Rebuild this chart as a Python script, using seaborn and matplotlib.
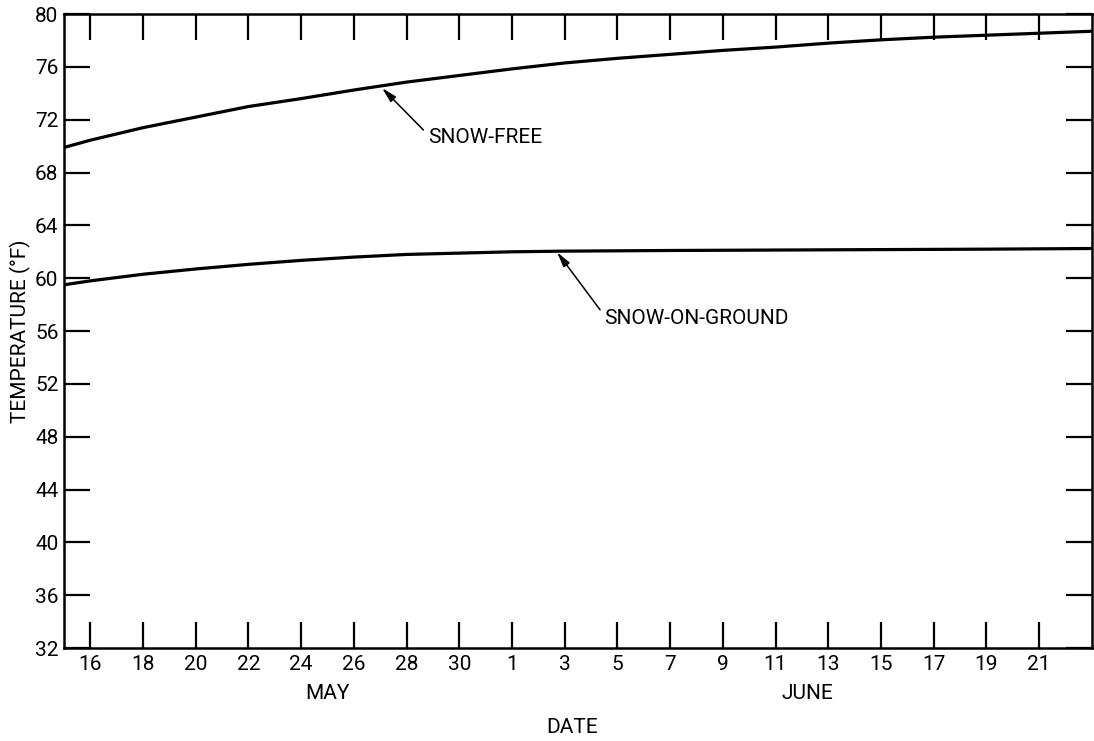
import numpy as np
import pandas as pd
import matplotlib
matplotlib.use('Agg')
import matplotlib.pyplot as plt
import seaborn as sns

# data (day index: May 1 = 1, June 1 = 32)
days_free = [15, 16, 18, 20, 22, 24, 26, 28, 30, 32, 34, 36, 38, 40, 42, 44, 46, 48, 50, 52, 54]
temp_free = [69.9, 70.45, 71.4, 72.2, 73.0, 73.6, 74.25, 74.85, 75.35, 75.85, 76.3, 76.65,
             76.95, 77.25, 77.5, 77.8, 78.05, 78.25, 78.4, 78.55, 78.7]
days_snow = [15, 16, 18, 20, 22, 24, 26, 28, 30, 32, 34, 38, 44, 50, 54]
temp_snow = [59.5, 59.8, 60.3, 60.7, 61.05, 61.35, 61.6, 61.8, 61.9, 62.0, 62.05, 62.1,
             62.15, 62.2, 62.25]

xtick_pos = [16, 18, 20, 22, 24, 26, 28, 30, 32, 34, 36, 38, 40, 42, 44, 46, 48, 50, 52]
xtick_labels = ['16', '18', '20', '22', '24', '26', '28', '30', '1', '3', '5', '7',
                '9', '11', '13', '15', '17', '19', '21']
yticks = list(range(32, 81, 4))

df = pd.concat([
    pd.DataFrame({'day': days_free, 'temp': temp_free, 'case': 'SNOW-FREE'}),
    pd.DataFrame({'day': days_snow, 'temp': temp_snow, 'case': 'SNOW-ON-GROUND'}),
])

sns.set_style('ticks')
plt.rcParams['font.family'] = ['Roboto', 'DejaVu Sans']
plt.rcParams['text.color'] = 'black'

fig, ax = plt.subplots(figsize=(10.94, 7.41), dpi=100)
fig.subplots_adjust(left=0.0585, right=0.998, top=0.981, bottom=0.1255)

sns.lineplot(data=df, x='day', y='temp', units='case', estimator=None,
             color='black', lw=2.3, ax=ax, legend=False)

ax.set_xlim(15, 54)
ax.set_ylim(32, 80)
ax.set_xticks(xtick_pos)
ax.set_xticklabels(xtick_labels)
ax.set_yticks(yticks)
ax.tick_params(direction='in', length=19, width=1.6, top=True, right=True,
               labelsize=15, colors='black')
ax.tick_params(axis='x', pad=5)
ax.tick_params(axis='y', pad=4)
for s in ax.spines.values():
    s.set_linewidth(1.8)
    s.set_color('black')

ax.set_xlabel('')
ax.set_ylabel('')
ax.text(-0.042, 0.5, 'TEMPERATURE (°F)', transform=ax.transAxes, rotation=90,
        ha='center', va='center', fontsize=15, color='black')
ax.text(25.0, -0.071, 'MAY', transform=ax.get_xaxis_transform(),
        ha='center', va='center', fontsize=15, color='black')
ax.text(43.2, -0.071, 'JUNE', transform=ax.get_xaxis_transform(),
        ha='center', va='center', fontsize=15, color='black')
ax.text(0.494, -0.126, 'DATE', transform=ax.transAxes,
        ha='center', va='center', fontsize=15, color='black')

arrow = dict(arrowstyle='-|>,head_length=0.6,head_width=0.15', color='black',
             lw=1.1, shrinkA=1, shrinkB=0, relpos=(0, 0.65))
ax.annotate('SNOW-FREE', xy=(27.07, 74.4), xytext=(28.8, 70.68),
            ha='left', va='center', fontsize=15, color='black', arrowprops=arrow)
ax.annotate('SNOW-ON-GROUND', xy=(33.71, 61.97), xytext=(35.5, 56.97),
            ha='left', va='center', fontsize=15, color='black', arrowprops=arrow)

fig.savefig('out.png', dpi=100, facecolor='white')
